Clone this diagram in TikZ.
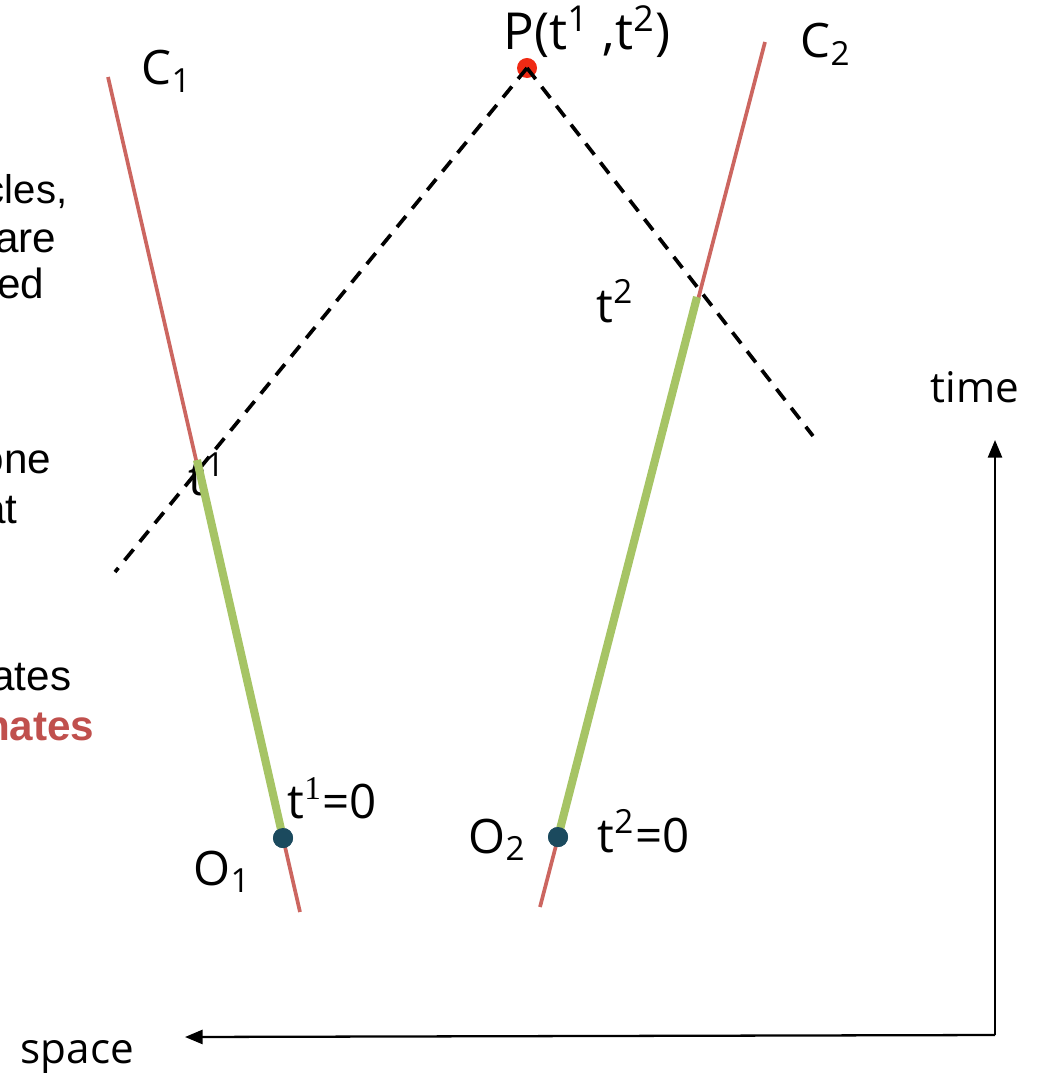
\documentclass[tikz,border=0pt]{standalone}
\usepackage{fontspec}
\setmainfont{Open Sans}
\newfontfamily\arialfont{Liberation Sans}
\newfontfamily\timesfont{Liberation Serif}
\usepackage{tikz}
\usetikzlibrary{positioning,arrows.meta}
\definecolor{line500}{HTML}{CC6660}
\definecolor{green400}{HTML}{A6C465}
\definecolor{slate800}{HTML}{1B4A5E}
\definecolor{red500}  {HTML}{F02A14}
\definecolor{clay600} {HTML}{C0504D}
\tikzset{
  world/.style ={draw=line500, line width=1.05pt},
  prop/.style  ={draw=green400, line width=2.3pt},
  ray/.style   ={draw=black, line width=1.05pt, dash pattern=on 4pt off 2.8pt},
  evt/.style   ={circle, fill=slate800, minimum size=0.2cm, inner sep=0pt},
  pevt/.style  ={circle, fill=red500, minimum size=0.2cm, inner sep=0pt},
  axis/.style  ={-{Triangle[length=5pt,width=4pt]}, draw=black,
                 line width=0.65pt},
  lbl/.style   ={font=\fontsize{13.5}{15}\selectfont, anchor=base west,
                 inner sep=0pt},
  axlbl/.style ={font=\fontsize{12}{14}\selectfont, anchor=base west,
                 inner sep=0pt},
  frag/.style  ={font=\arialfont\fontsize{12}{14}\selectfont,
                 anchor=base east, inner sep=0pt}
}

\begin{document}
\begin{tikzpicture}[x=0.01cm,y=-0.01cm]
\useasboundingbox (0,0) rectangle (1036,1073);

% cut-off text on the left
\node[frag, font=\arialfont\fontsize{11.4}{14}\selectfont]
  (fa) at (68,204) {cles,};
\node[frag] (fb) at (57,252) {are};
\node[frag] (fc) at (45,298) {ed};
\node[frag] (fd) at (52,473) {one};
\node[frag] (fe) at (18,523) {at};
\node[frag] (ff) at (72,690) {ates};
\node[frag, text=clay600, font=\arialfont\bfseries\fontsize{12}{14}\selectfont]
  (fg) at (95,740) {nates};

% world lines
\coordinate (c1top) at (108,77);
\coordinate (c1bot) at (300,912);
\coordinate (c2top) at (765,42);
\coordinate (c2bot) at (540,907);
\coordinate (t1pt)  at (197,460);
\coordinate (t2pt)  at (697,297);
\coordinate (rayl)  at (115,572);
\coordinate (rayr)  at (813,436);

\draw[world] (c1top) -- (c1bot);
\draw[world] (c2top) -- (c2bot);

\node[evt]  (o1) at (283,838) {};
\node[evt]  (o2) at (558,837) {};
\node[pevt] (P)  at (527,68)  {};

\draw[ray] (P.center) -- (rayl);
\draw[ray] (P.center) -- (rayr);

\node[lbl] (t1l) at (188,495) {t\textsuperscript{1}};

\draw[prop] (t1pt) -- (o1.center);
\draw[prop] (t2pt) -- (o2.center);
\node[evt]  at (o1) {};
\node[evt]  at (o2) {};

% labels
\node[lbl, font=\fontsize{14.5}{16}\selectfont]
  (pl)  at (503,50)  {P(t\textsuperscript{1} ,t\textsuperscript{2})};
\node[lbl] (c1l) at (141,85)  {C\textsubscript{1}};
\node[lbl] (c2l) at (800,58)  {C\textsubscript{2}};
\node[lbl] (t2l) at (596,322) {t\textsuperscript{2}};
\node[lbl] (t1z) at (287,818) {t{\timesfont\textsuperscript{1}}=0};
\node[lbl] (t2z) at (597,852) {t\textsuperscript{2}=0};
\node[lbl] (o1l) at (193,885) {O\textsubscript{1}};
\node[lbl] (o2l) at (468,853) {O\textsubscript{2}};

% axes
\coordinate (orig)  at (995,1035);
\coordinate (tend)  at (995,440);
\coordinate (send)  at (185,1037);
\draw[axis] (orig) -- (tend);
\draw[axis] (orig) -- (send);
\node[axlbl] (tl) at (930,402)  {time};
\node[axlbl] (sl) at (20,1063)  {space};
\end{tikzpicture}
\end{document}
